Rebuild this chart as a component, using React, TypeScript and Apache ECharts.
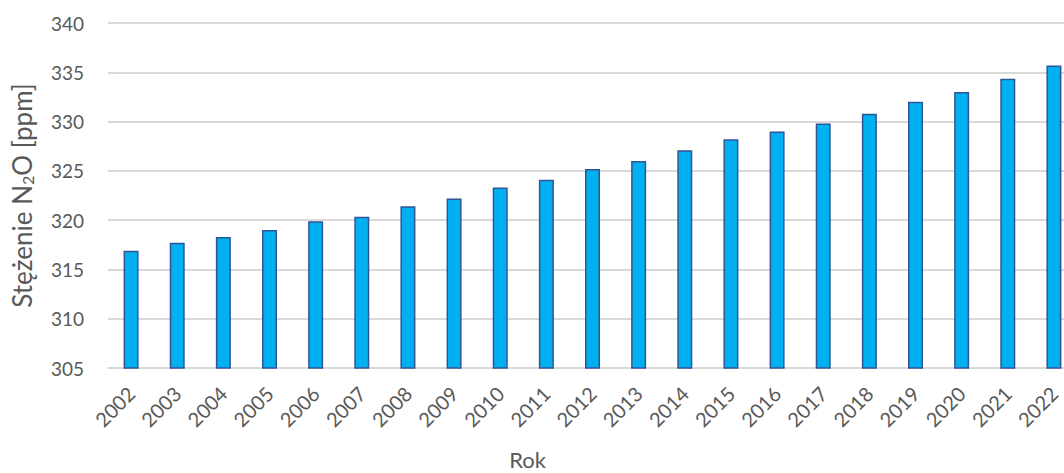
import React, { useEffect, useRef } from "react";
import * as echarts from "echarts";

// Annual mean N2O concentration, ppm
const years = [
  "2002", "2003", "2004", "2005", "2006", "2007", "2008", "2009", "2010", "2011", "2012",
  "2013", "2014", "2015", "2016", "2017", "2018", "2019", "2020", "2021", "2022",
];
const concentration = [
  316.9, 317.7, 318.3, 319.0, 319.9, 320.35, 321.4, 322.2, 323.3, 324.1, 325.2,
  326.0, 327.1, 328.2, 329.0, 329.8, 330.8, 332.0, 333.0, 334.35, 335.7,
];
const yMin = 305;
const yMax = 340;
const yStep = 5;

const FONT = "Lato, 'Liberation Sans', sans-serif";
const TEXT = "#595959";

export default function App() {
  const ref = useRef<HTMLDivElement>(null);

  useEffect(() => {
    if (!ref.current) return;
    const chart = echarts.init(ref.current, undefined, { renderer: "svg" });
    chart.setOption({
      animation: false,
      backgroundColor: "#ffffff",
      grid: {
        left: 108,
        top: 23,
        width: 969,
        height: 345,
        containLabel: false,
        outerBoundsMode: "none",
      },
      xAxis: {
        type: "category",
        data: years,
        name: "Rok",
        nameLocation: "middle",
        nameGap: 80,
        nameTextStyle: { fontFamily: FONT, fontSize: 22, color: TEXT, padding: [0, 130, 0, 0] },
        axisLine: { show: true, lineStyle: { color: "#d9d9d9", width: 2 } },
        axisTick: { show: false },
        axisLabel: {
          rotate: 45,
          margin: 22,
          fontFamily: FONT,
          fontSize: 20,
          color: TEXT,
          interval: 0,
        },
      },
      yAxis: {
        type: "value",
        min: yMin,
        max: yMax,
        interval: yStep,
        name: "{a|Stężenie N}{s|2}{a|O [ppm]}",
        nameLocation: "middle",
        nameGap: 73,
        nameRotate: 90,
        nameTextStyle: {
          rich: {
            a: { fontFamily: FONT, fontSize: 26, color: TEXT },
            s: { fontFamily: FONT, fontSize: 16, color: TEXT, padding: [10, 0, 0, 0] },
          },
        },
        axisLine: { show: false },
        axisTick: { show: false },
        axisLabel: { margin: 24, fontFamily: FONT, fontSize: 19, color: TEXT },
        splitLine: { lineStyle: { color: "#d9d9d9", width: 2 } },
      },
      series: [
        {
          type: "bar",
          data: concentration,
          barWidth: 15,
          itemStyle: { color: "#00b0f0", borderColor: "#2f5597", borderWidth: 1.5 },
        },
      ],
    });
    return () => chart.dispose();
  }, []);

  return (
    <div
      ref={ref}
      style={{ position: "fixed", left: 0, top: 0, width: 1064, height: 473 }}
    />
  );
}
